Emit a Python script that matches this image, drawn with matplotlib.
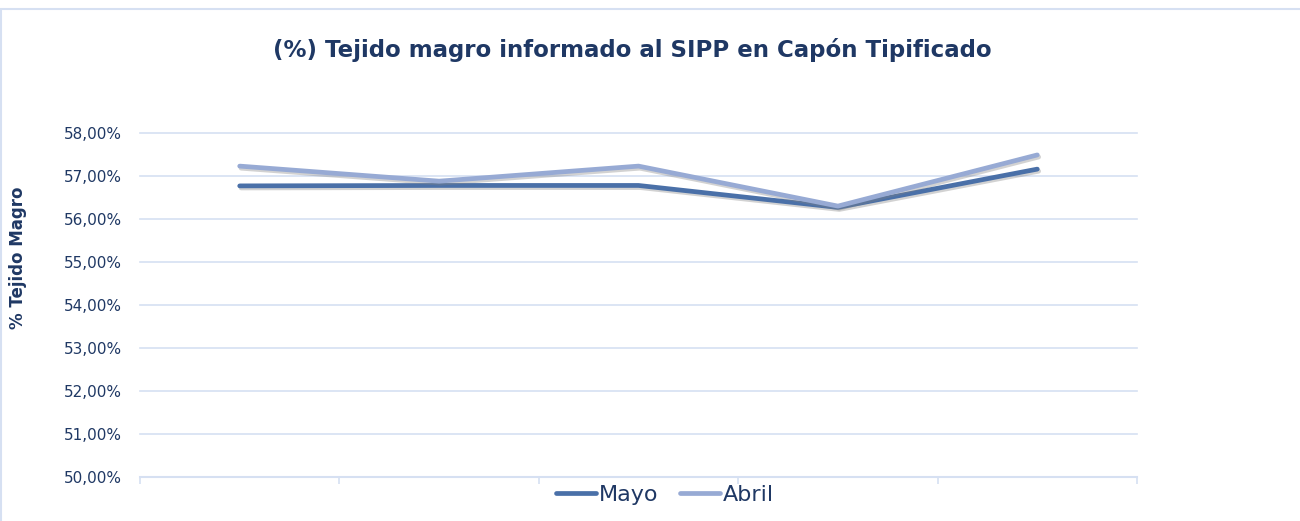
import matplotlib
matplotlib.use("Agg")
import matplotlib.pyplot as plt
import matplotlib.patheffects as pe
from matplotlib.patches import Rectangle
import numpy as np

categories = ["1", "2", "3", "4", "5"]
mayo = [56.77, 56.78, 56.78, 56.27, 57.16]
abril = [57.23, 56.88, 57.23, 56.30, 57.49]
yticks = [50, 51, 52, 53, 54, 55, 56, 57, 58]

plt.rcParams['font.family'] = ['DejaVu Sans']
navy = "#1F3864"
grid_c = "#D6E0F2"

fig = plt.figure(figsize=(13, 5.21), dpi=100)
ax = fig.add_axes([140/1300, 1-477/521, (1137-140)/1300, (477-133)/521])

x = np.arange(len(categories))
shadow = [pe.SimpleLineShadow(offset=(1, -1.5), shadow_color='gray', alpha=0.35), pe.Normal()]
ax.plot(x, mayo, color="#4A70A8", lw=3.4, label="Mayo", solid_capstyle='round', path_effects=shadow, zorder=3)
ax.plot(x, abril, color="#97AAD4", lw=3.4, label="Abril", solid_capstyle='round', path_effects=shadow, zorder=3)

ax.set_xlim(-0.5, len(categories) - 0.5)
ax.set_ylim(50, 58)
ax.set_yticks(yticks)
ax.set_yticklabels([f"{v:.2f}%".replace(".", ",") for v in yticks], color=navy, fontsize=11)
ax.set_xticks(np.arange(-0.5, len(categories)))
ax.set_xticklabels([])
ax.tick_params(axis='y', length=0, pad=13)
ax.tick_params(axis='x', length=5, color=grid_c, width=1.2)
ax.yaxis.grid(True, color=grid_c, lw=1.2, clip_on=False)
ax.set_axisbelow(True)
for s in ["top", "right", "left"]:
    ax.spines[s].set_visible(False)
ax.spines["bottom"].set_color(grid_c)
ax.spines["bottom"].set_linewidth(1.5)

fig.text(632/1300, 1-50/521, "(%) Tejido magro informado al SIPP en Capón Tipificado",
         ha='center', va='center', fontsize=16.5, fontweight='bold', color=navy)
fig.text(18/1300, 1-258/521, "% Tejido Magro", rotation=90, ha='center', va='center',
         fontsize=12, fontweight='bold', color=navy)

leg = ax.legend(loc='center', bbox_to_anchor=(665/1300, 1-495/521), bbox_transform=fig.transFigure,
                ncol=2, frameon=False, fontsize=16, handlelength=1.8, handletextpad=0.1,
                columnspacing=1.0)
for t in leg.get_texts():
    t.set_color(navy)
for l in leg.get_lines():
    l.set_path_effects([])

fig.patches.append(Rectangle((0.5/1300, -0.01), 1.2, 1-9/521+0.01, transform=fig.transFigure,
                             fill=False, edgecolor="#D6E0F2", lw=1.5))

fig.savefig("out.png", dpi=100)
